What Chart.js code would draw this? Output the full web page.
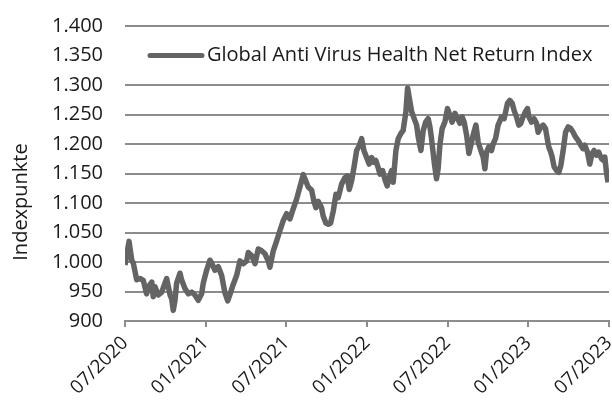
<!DOCTYPE html>
<html>
<head>
<meta charset="utf-8">
<script src="https://cdn.jsdelivr.net/npm/chart.js@4.4.0/dist/chart.umd.min.js"></script>
<style>
html, body { margin: 0; padding: 0; background: #fff; }
</style>
</head>
<body>
<canvas id="chart" width="612" height="407"></canvas>
<script>
// Daten: Monate seit 07/2020 und Indexstand
var months = [0.00, 0.30, 0.50, 0.62, 0.87, 1.12, 1.36, 1.61, 1.73, 1.99, 2.10, 2.23, 2.48, 2.73, 2.97, 3.10, 3.35, 3.47, 3.59, 3.72,
	3.84, 4.09, 4.22, 4.46, 4.71, 4.96, 5.20, 5.45, 5.70, 5.82, 6.07, 6.32, 6.45, 6.69, 6.94, 7.19, 7.43, 7.64, 7.81, 8.05,
	8.30, 8.55, 8.80, 9.05, 9.17, 9.42, 9.67, 9.91, 10.16, 10.41, 10.65, 10.78, 11.03, 11.28, 11.52, 11.77, 12.02, 12.27, 12.51, 12.77,
	13.01, 13.26, 13.38, 13.63, 13.88, 14.05, 14.20, 14.37, 14.62, 14.74, 14.94, 15.12, 15.29, 15.49, 15.69, 15.86, 16.11, 16.36, 16.53, 16.68,
	16.86, 17.03, 17.23, 17.42, 17.60, 17.77, 17.97, 18.16, 18.34, 18.51, 18.66, 18.83, 18.96, 19.16, 19.33, 19.50, 19.65, 19.83, 19.95, 20.15,
	20.32, 20.50, 20.69, 20.89, 21.02, 21.19, 21.32, 21.51, 21.69, 21.81, 22.01, 22.18, 22.36, 22.55, 22.68, 22.80, 23.00, 23.17, 23.29, 23.42,
	23.59, 23.79, 23.99, 24.16, 24.33, 24.54, 24.74, 24.91, 25.08, 25.23, 25.41, 25.58, 25.78, 25.95, 26.10, 26.27, 26.47, 26.64, 26.77, 26.89,
	27.06, 27.26, 27.38, 27.56, 27.75, 28.01, 28.20, 28.45, 28.62, 28.80, 28.94, 29.12, 29.29, 29.44, 29.61, 29.79, 29.94, 30.04, 30.24, 30.43,
	30.61, 30.73, 30.93, 31.10, 31.28, 31.43, 31.52, 31.67, 31.77, 31.92, 32.10, 32.27, 32.42, 32.59, 32.77, 32.96, 33.16, 33.33, 33.51, 33.70,
	33.90, 34.07, 34.20, 34.40, 34.57, 34.74, 34.89, 35.07, 35.24, 35.44, 35.59, 35.69, 35.81, 35.93];
var indexValues = [995, 1035, 1003, 998, 970, 972, 969, 946, 958, 966, 941, 958, 944, 949, 964, 972, 944, 938, 918, 935,
	964, 981, 969, 955, 946, 949, 944, 935, 946, 964, 986, 1003, 998, 986, 992, 977, 948, 934, 945, 962,
	977, 1002, 997, 1002, 1016, 1011, 997, 1022, 1019, 1014, 1002, 991, 1019, 1036, 1053, 1070, 1082, 1073, 1090, 1107,
	1127, 1148, 1141, 1127, 1122, 1103, 1092, 1103, 1092, 1078, 1066, 1064, 1066, 1086, 1115, 1109, 1132, 1143, 1146, 1123,
	1138, 1160, 1189, 1197, 1209, 1189, 1177, 1166, 1177, 1169, 1172, 1160, 1149, 1155, 1140, 1129, 1143, 1155, 1135, 1189,
	1209, 1217, 1223, 1254, 1295, 1272, 1255, 1243, 1232, 1212, 1189, 1223, 1237, 1243, 1229, 1209, 1169, 1141, 1158, 1198,
	1226, 1237, 1260, 1249, 1237, 1252, 1243, 1235, 1246, 1237, 1215, 1184, 1203, 1220, 1232, 1203, 1189, 1178, 1158, 1186,
	1195, 1189, 1200, 1209, 1232, 1246, 1243, 1269, 1274, 1269, 1257, 1246, 1232, 1235, 1246, 1255, 1260, 1246, 1237, 1243,
	1235, 1220, 1229, 1232, 1226, 1206, 1195, 1186, 1178, 1161, 1155, 1152, 1164, 1189, 1220, 1229, 1226, 1220, 1212, 1206,
	1198, 1192, 1198, 1186, 1166, 1184, 1189, 1181, 1186, 1175, 1172, 1178, 1152, 1135];
var tickLabels = ['07/2020', '01/2021', '07/2021', '01/2022', '07/2022', '01/2023', '07/2023'];
var seriesName = 'Global Anti Virus Health Net Return Index';
var axisTitle = 'Indexpunkte';

var lineColor = '#646464';
var gridColor = '#8c8c8c';
var textColor = '#1a1a1a';
var fontFamily = "'Open Sans', sans-serif";

var points = [];
for (var i = 0; i < months.length; i++) {
	points.push({x: months[i], y: indexValues[i]});
}

function formatDe(v) {
	var s = String(v);
	if (v >= 1000) s = s.slice(0, s.length - 3) + '.' + s.slice(-3);
	return s;
}

//Legende und Achsentitel von Hand zeichnen
var extras = {
	id: 'extras',
	afterDraw: function(chart) {
		var ctx = chart.ctx;
		var a = chart.chartArea;
		var ly = chart.scales.y.getPixelForValue(1350);
		ctx.save();
		ctx.fillStyle = '#fff';
		ctx.fillRect(a.left - 2, ly - 9, a.right - a.left + 4, 18);
		ctx.strokeStyle = lineColor;
		ctx.lineWidth = 5;
		ctx.lineCap = 'round';
		ctx.beginPath();
		ctx.moveTo(a.left + 25, ly);
		ctx.lineTo(a.left + 77, ly);
		ctx.stroke();
		ctx.fillStyle = textColor;
		ctx.font = '20px ' + fontFamily;
		ctx.textAlign = 'left';
		ctx.textBaseline = 'middle';
		ctx.fillText(seriesName, a.left + 82, ly);
		ctx.translate(21, 202);
		ctx.rotate(-Math.PI / 2);
		ctx.textAlign = 'center';
		ctx.fillText(axisTitle, 0, 0);
		ctx.restore();
	}
};

var ctx = document.getElementById('chart').getContext('2d');
var chart = new Chart(ctx, {
	type: 'line',
	data: {
		datasets: [{
			label: seriesName,
			data: points,
			borderColor: lineColor,
			borderWidth: 5.5,
			borderJoinStyle: 'round',
			pointRadius: 0,
			tension: 0
		}]
	},
	options: {
		responsive: false,
		animation: false,
		layout: {padding: {top: 26, right: 3, left: 0, bottom: 0}},
		plugins: {legend: {display: false}, tooltip: {enabled: false}},
		scales: {
			x: {
				type: 'linear',
				min: 0,
				max: 36,
				afterBuildTicks: function(scale) {
					scale.ticks = tickLabels.map(function(l, i) { return {value: i * 6}; });
				},
				afterFit: function(scale) {
					scale.height = 86;
					scale.paddingLeft = 0;
					scale.paddingRight = 0;
				},
				grid: {display: true, drawOnChartArea: false, drawTicks: true, tickLength: 6, color: gridColor, lineWidth: 2},
				border: {display: true, color: gridColor, width: 2},
				ticks: {
					autoSkip: false,
					maxRotation: 45,
					minRotation: 45,
					padding: 5,
					color: textColor,
					font: {family: fontFamily, size: 19},
					callback: function(v, i) { return tickLabels[i]; }
				}
			},
			y: {
				min: 900,
				max: 1400,
				afterFit: function(scale) {
					scale.width = 125;
					scale.paddingTop = 0;
					scale.paddingBottom = 0;
				},
				grid: {drawTicks: false, color: gridColor, lineWidth: 2},
				border: {display: false},
				ticks: {
					stepSize: 50,
					padding: 22,
					color: textColor,
					font: {family: fontFamily, size: 20},
					callback: function(v) { return formatDe(v); }
				}
			}
		}
	},
	plugins: [extras]
});
</script>
</body>
</html>
